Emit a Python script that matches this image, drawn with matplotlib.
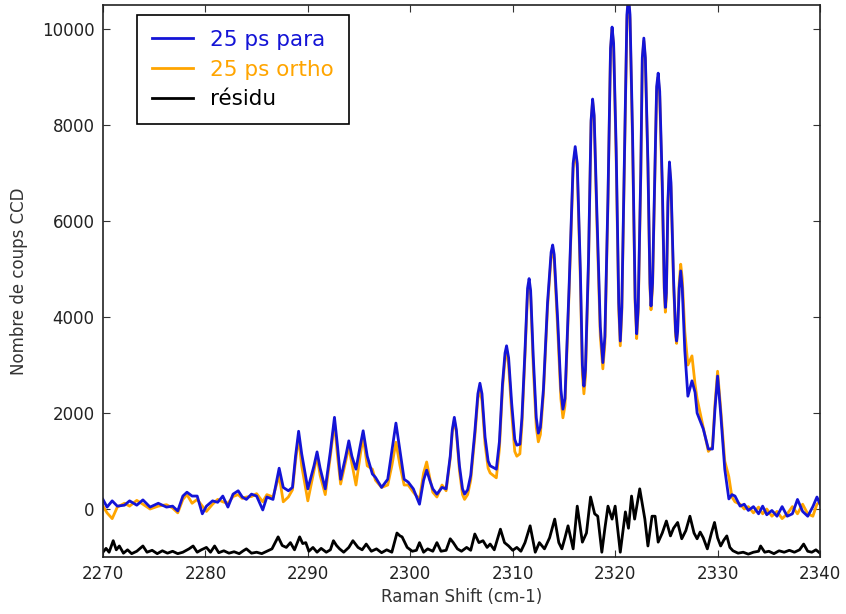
import matplotlib
matplotlib.use("Agg")
import matplotlib.pyplot as plt

# spectres : "25 ps para" (bleu) et "25 ps ortho" (orange)
# partie gauche, raies faibles
x_a = [2270.0, 2270.4, 2270.9, 2271.4, 2272.1, 2272.6, 2273.3, 2273.9, 2274.6, 2275.4,
       2276.2, 2276.8, 2277.3, 2277.8, 2278.2, 2278.7, 2279.2, 2279.7, 2280.1, 2280.7,
       2281.2, 2281.7, 2282.2, 2282.7, 2283.2, 2283.6, 2284.0, 2284.5, 2285.0, 2285.6,
       2286.0, 2286.6, 2287.2, 2287.6, 2288.1, 2288.5, 2288.8, 2289.1, 2289.4, 2290.0,
       2290.6, 2290.9, 2291.2, 2291.7, 2292.2, 2292.6, 2292.9, 2293.2, 2293.7, 2294.0,
       2294.3, 2294.7, 2295.1, 2295.4, 2295.8, 2296.3, 2296.6, 2297.2, 2297.8, 2298.2,
       2298.6, 2299.0, 2299.4, 2299.8, 2300.3, 2300.9, 2301.3, 2301.6, 2301.9, 2302.2,
       2302.6, 2303.1]
para_a = [200, 40, 170, 60, 80, 170, 80, 190, 40, 120,
          40, 60, -40, 270, 350, 270, 270, -100, 60, 170,
          140, 270, 40, 310, 380, 250, 200, 310, 270, -20,
          250, 200, 850, 450, 380, 450, 1100, 1620, 1150, 420,
          900, 1190, 850, 420, 1200, 1910, 1300, 620, 1100, 1420,
          1100, 830, 1300, 1630, 1100, 730, 660, 450, 620, 1200,
          1790, 1200, 620, 560, 420, 100, 600, 810, 600, 420,
          310, 450]
ortho_a = [60, -80, -200, 40, 120, 60, 180, 100, 0, 60,
           90, 20, -80, 200, 300, 120, 200, 60, -50, 100,
           200, 150, 120, 260, 300, 220, 250, 260, 320, 150,
           300, 250, 700, 150, 250, 400, 1000, 1500, 900, 170,
           800, 1100, 700, 300, 1100, 1800, 1100, 520, 1000, 1300,
           950, 500, 1100, 1500, 900, 830, 600, 450, 500, 900,
           1390, 900, 500, 500, 350, 200, 750, 980, 650, 350,
           250, 500]

# partie centrale, raies fortes
x_b = [2303.5, 2303.9, 2304.1, 2304.3, 2304.5, 2304.8, 2305.1, 2305.3, 2305.6, 2305.9,
       2306.3, 2306.6, 2306.8, 2307.0, 2307.3, 2307.6, 2307.8, 2308.4, 2308.7, 2309.0,
       2309.25, 2309.4, 2309.6, 2309.9, 2310.2, 2310.4, 2310.7, 2310.9, 2311.2, 2311.45,
       2311.6, 2311.75, 2312.0, 2312.3, 2312.5, 2312.7, 2313.0, 2313.4, 2313.75, 2313.9,
       2314.05, 2314.4, 2314.7, 2314.9, 2315.1, 2315.5, 2315.9, 2316.1, 2316.3, 2316.6,
       2316.8, 2316.95, 2317.1, 2317.4, 2317.65, 2317.8, 2317.95, 2318.2, 2318.55, 2318.8,
       2319.0, 2319.3, 2319.55, 2319.7, 2319.85, 2320.1, 2320.35, 2320.5, 2320.65, 2320.9,
       2321.15, 2321.3, 2321.45, 2321.7, 2321.95, 2322.1, 2322.25, 2322.5, 2322.65, 2322.8,
       2322.95, 2323.2, 2323.4, 2323.5, 2323.65, 2323.9, 2324.05, 2324.2, 2324.35, 2324.6,
       2324.8, 2324.9, 2325.0, 2325.15, 2325.3, 2325.45, 2325.7, 2325.9, 2326.0, 2326.1,
       2326.25, 2326.4, 2326.55, 2326.8, 2327.1]
para_b = [420, 1100, 1650, 1910, 1650, 900, 420, 310, 400, 700,
          1600, 2400, 2620, 2400, 1500, 1000, 900, 830, 1400, 2600,
          3250, 3400, 3150, 2200, 1450, 1330, 1350, 1900, 3300, 4600,
          4800, 4550, 3200, 1900, 1580, 1700, 2500, 4300, 5350, 5500,
          5300, 3900, 2500, 2080, 2300, 4600, 7200, 7550, 7200, 5000,
          3000, 2560, 2900, 5200, 8100, 8540, 8200, 6300, 3800, 3050,
          3600, 6500, 9600, 10040, 9700, 7500, 4300, 3500, 4200, 7200,
          10300, 10700, 10300, 7800, 4400, 3650, 4200, 7000, 9400, 9810,
          9400, 7200, 4700, 4230, 4700, 7300, 8800, 9080, 8700, 6800,
          4600, 4200, 4500, 6400, 7230, 6800, 4800, 3700, 3500, 3700,
          4600, 4960, 4600, 3300, 2350]
ortho_b = [380, 1050, 1600, 1850, 1600, 800, 300, 200, 300, 600,
           1500, 2300, 2500, 2250, 1350, 850, 750, 650, 1250, 2500,
           3150, 3300, 3000, 2000, 1200, 1100, 1150, 1750, 3200, 4500,
           4700, 4450, 3000, 1700, 1400, 1550, 2400, 4200, 5250, 5400,
           5200, 3700, 2300, 1900, 2150, 4500, 7100, 7450, 7100, 4800,
           2800, 2400, 2750, 5100, 8050, 8500, 8150, 6100, 3600, 2920,
           3450, 6400, 9550, 10000, 9650, 7300, 4150, 3400, 4100, 7100,
           10200, 10600, 10200, 7600, 4300, 3550, 4100, 6900, 9350, 9750,
           9350, 7100, 4600, 4150, 4600, 7200, 8700, 9000, 8600, 6600,
           4500, 4100, 4400, 6300, 7150, 6700, 4700, 3600, 3450, 3800,
           4700, 5100, 4800, 3700, 3000]

# partie droite, chute et ligne de base
x_c = [2327.5, 2327.8, 2328.0, 2328.6, 2329.1, 2329.5, 2329.75, 2330.0, 2330.3, 2330.7,
       2331.1, 2331.4, 2331.7, 2332.2, 2332.6, 2333.0, 2333.5, 2334.0, 2334.4, 2334.8,
       2335.3, 2335.8, 2336.3, 2336.8, 2337.3, 2337.8, 2338.3, 2338.8, 2339.3, 2339.7,
       2340.0]
para_c = [2670, 2430, 2000, 1670, 1250, 1250, 2100, 2770, 2000, 830,
          210, 300, 270, 60, 100, -30, 50, -100, 60, -120,
          -30, -150, 50, -150, -100, 200, -50, -150, 50, 250,
          100]
ortho_c = [3190, 2600, 2300, 1700, 1200, 1300, 2200, 2870, 2100, 1000,
           670, 250, 150, 100, 0, 50, -80, 40, -100, 0,
           -150, -50, -200, -100, 50, -100, 100, -100, -150, 100,
           150]

# residu (noir)
x_res = [2270.0, 2270.3, 2270.6, 2271.0, 2271.3, 2271.6, 2272.0, 2272.4, 2272.8, 2273.3,
         2273.9, 2274.3, 2274.8, 2275.3, 2275.8, 2276.3, 2276.8, 2277.3, 2277.8, 2278.4,
         2278.8, 2279.2, 2279.6, 2280.1, 2280.5, 2280.9, 2281.3, 2281.8, 2282.3, 2282.8,
         2283.3, 2283.7, 2284.0, 2284.5, 2285.0, 2285.5, 2286.0, 2286.5, 2287.1, 2287.5,
         2287.9, 2288.3, 2288.7, 2289.2, 2289.5, 2289.8, 2290.1, 2290.5, 2290.9, 2291.3,
         2291.8, 2292.2, 2292.5, 2292.8, 2293.1, 2293.5, 2294.0, 2294.4, 2294.9, 2295.3,
         2295.7, 2296.2, 2296.7, 2297.2, 2297.7, 2298.2, 2298.7, 2299.0, 2299.2, 2299.7,
         2300.2, 2300.6, 2300.9, 2301.3, 2301.7, 2302.2, 2302.6, 2303.0, 2303.5, 2303.9,
         2304.2, 2304.6, 2305.0, 2305.5, 2305.9, 2306.3, 2306.7, 2307.1, 2307.5, 2307.8,
         2308.2, 2308.8, 2309.2, 2309.6, 2310.0, 2310.4, 2310.8, 2311.2, 2311.7, 2312.2,
         2312.6, 2313.1, 2313.6, 2314.1, 2314.5, 2314.8, 2315.1, 2315.4, 2315.9, 2316.3,
         2316.8, 2317.2, 2317.6, 2318.0, 2318.3, 2318.7, 2319.0, 2319.3, 2319.7, 2320.0,
         2320.5, 2321.0, 2321.3, 2321.6, 2321.9, 2322.4, 2322.9, 2323.2, 2323.6, 2323.9,
         2324.2, 2324.6, 2325.0, 2325.4, 2325.7, 2326.1, 2326.5, 2326.9, 2327.3, 2327.7,
         2328.0, 2328.3, 2328.6, 2329.0, 2329.4, 2329.7, 2330.0, 2330.3, 2330.6, 2330.9,
         2331.2, 2331.5, 2332.0, 2332.5, 2333.0, 2333.5, 2334.0, 2334.2, 2334.6, 2335.0,
         2335.5, 2336.0, 2336.5, 2337.0, 2337.5, 2338.0, 2338.4, 2338.8, 2339.2, 2339.6,
         2340.0]
y_res = [-900, -820, -900, -660, -850, -770, -920, -850, -930, -880,
         -770, -900, -860, -930, -870, -920, -880, -930, -900, -830,
         -770, -900, -850, -800, -900, -770, -910, -870, -920, -890,
         -930, -870, -830, -920, -900, -930, -880, -830, -580, -760,
         -800, -700, -850, -580, -720, -700, -880, -800, -900, -820,
         -900, -850, -660, -760, -830, -900, -800, -660, -800, -850,
         -730, -880, -830, -910, -850, -900, -500, -560, -580, -800,
         -880, -860, -700, -900, -830, -880, -700, -880, -860, -620,
         -700, -830, -880, -800, -860, -520, -700, -660, -800, -730,
         -850, -420, -700, -770, -860, -800, -880, -700, -350, -900,
         -700, -830, -600, -210, -700, -830, -600, -350, -830, 60,
         -690, -500, 250, -100, -150, -900, -400, 60, -210, 60,
         -900, -60, -400, 270, -210, 420, -210, -770, -150, -150,
         -690, -500, -250, -560, -400, -280, -620, -450, -150, -500,
         -620, -480, -600, -830, -500, -280, -600, -770, -650, -560,
         -800, -870, -920, -900, -940, -900, -880, -770, -900, -880,
         -930, -870, -900, -860, -900, -850, -730, -880, -900, -850,
         -920]

x_spec = x_a + x_b + x_c
y_para = para_a + para_b + para_c
y_ortho = ortho_a + ortho_b + ortho_c

plt.rcParams['font.family'] = ['DejaVu Sans']

fig = plt.figure(figsize=(8.46, 6.14), dpi=100)
ax = fig.add_axes([0.1217, 0.0928, 0.8476, 0.8991])

l2, = ax.plot(x_spec, y_ortho, color='orange', lw=2.0, label='25 ps ortho')
l1, = ax.plot(x_spec, y_para, color='#1414d6', lw=2.0, label='25 ps para')
l3, = ax.plot(x_res, y_res, color='black', lw=2.0, label='résidu')

ax.set_xlim(2270, 2340)
ax.set_ylim(-1000, 10500)
ax.set_xticks(range(2270, 2341, 10))
ax.set_yticks(range(0, 10001, 2000))
ax.tick_params(direction='in', top=True, right=True, labelsize=12, length=5,
               colors='#333333', labelcolor='#222222', pad=6)
for s in ax.spines.values():
    s.set_linewidth(1.2)
    s.set_color('#222222')

ax.set_xlabel('Raman Shift (cm-1)', fontsize=12, color='#333333', labelpad=3)
ax.set_ylabel('Nombre de coups CCD', fontsize=12, color='#333333', labelpad=10)

leg = ax.legend(handles=[l1, l2, l3], loc='upper left', bbox_to_anchor=(0.047, 0.982),
                borderaxespad=0, fontsize=15.5, fancybox=False, framealpha=1,
                edgecolor='black', borderpad=0.7, labelspacing=0.45,
                handlelength=1.9, handletextpad=0.8)
leg.get_frame().set_linewidth(1.2)
for txt, ln in zip(leg.get_texts(), [l1, l2, l3]):
    txt.set_color(ln.get_color())

fig.savefig('out.png', dpi=100)
